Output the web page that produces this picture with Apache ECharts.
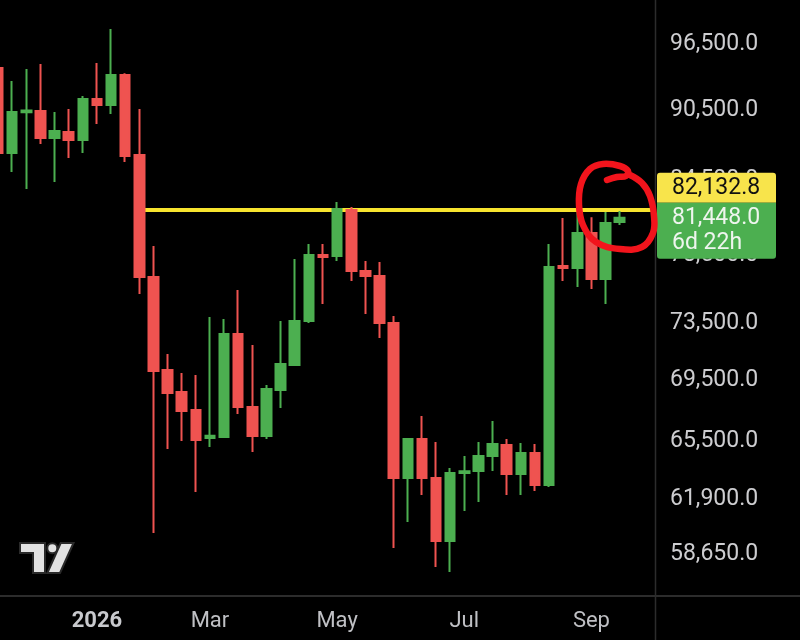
<!DOCTYPE html>
<html><head><meta charset="utf-8">
<script src="https://cdn.jsdelivr.net/npm/echarts@6/dist/echarts.min.js"></script>
<style>html,body{margin:0;padding:0;background:#000;}#c{width:800px;height:640px;}</style>
</head><body><div id="c"></div>
<script>
// weekly bars (Monday open)
const dates = ['2025-11-17','2025-11-24','2025-12-01','2025-12-08','2025-12-15','2025-12-22','2025-12-29',
  '2026-01-05','2026-01-12','2026-01-19','2026-01-26','2026-02-02','2026-02-09','2026-02-16','2026-02-23',
  '2026-03-02','2026-03-09','2026-03-16','2026-03-23','2026-03-30','2026-04-06','2026-04-13','2026-04-20','2026-04-27',
  '2026-05-04','2026-05-11','2026-05-18','2026-05-25','2026-06-01','2026-06-08','2026-06-15','2026-06-22','2026-06-29',
  '2026-07-06','2026-07-13','2026-07-20','2026-07-27','2026-08-03','2026-08-10','2026-08-17','2026-08-24','2026-08-31',
  '2026-09-07','2026-09-14','2026-09-21','2026-09-28','2026-10-05'];
const opens  = [94280,86772,90300,90404,88051,88569,87880,91469,90935,93638,86603,76879,70206,68715,67518,65700,65762,72718,67716,65825,68849,70550,73646,78548,78471,82074,77330,76954,73503,63180,65633,63180,59413,63489,63613,64552,65249,63427,64741,62750,77700,77557,80253,76729,81119];
const closes = [86772,90316,90450,88051,88656,87880,91469,90935,93638,86519,76879,70138,68648,67452,65569,65850,72718,67716,65825,68917,70619,73646,78548,78400,82154,77330,76954,73503,63180,65633,63180,59413,63489,63600,64552,65313,63427,64741,62750,77633,77560,80253,76729,81040,81448];
const lows   = [86000,85177,83775,87537,84349,86350,86772,89263,90140,86013,75614,59880,64995,65504,62324,65122,65697,67255,64805,65633,67650,70481,73500,74879,78089,76579,74152,72434,59009,60526,62141,57924,57642,61179,61719,63613,62141,62141,62385,62627,76579,76132,75984,74879,80882];
const highs  = [95000,93090,94188,94649,90316,90581,91737,94741,97939,93800,90581,79241,71312,70001,69865,73935,73791,75910,71941,69186,73646,78242,79396,79396,82718,82315,78089,78013,74007,65697,67124,65440,63800,64552,65440,66797,65633,65377,65313,79396,81436,81915,81500,81915,81995];

const priceTicks = [58650, 61900, 65500, 69500, 73500, 78500, 84500, 90500, 96500];
const timeTickDates  = ['2026-01-05','2026-03-02','2026-05-04','2026-07-06','2026-09-07'];
const timeTickLabels = ['2026','Mar','May','Jul','Sep'];
const levelPrice = 82132.8;
const levelStartIndex = 10;
const lastPrice = 81448.0;
const countdown = '6d 22h';

const UP = '#4caf50', DOWN = '#ef5350', YEL = '#f7e42e';
const FONT = 'Roboto';

function fmt(v) {
  const p = (Math.round(v * 10) / 10).toFixed(1).split('.');
  return p[0].replace(/\B(?=(\d{3})+(?!\d))/g, ',') + '.' + p[1];
}
const labelMap = {};
timeTickDates.forEach((d, i) => labelMap[d] = timeTickLabels[i]);

const candles = opens.map((o, i) => [o, closes[i], lows[i], highs[i]]);

const chart = echarts.init(document.getElementById('c'), null, {renderer: 'canvas'});
chart.setOption({
  backgroundColor: '#000000',
  animation: false,
  grid: {left: -9, right: 145, top: 0, bottom: 44, outerBoundsMode: 'none', containLabel: false},
  xAxis: {
    type: 'category', data: dates, boundaryGap: true,
    axisLine: {show: false}, axisTick: {show: false}, splitLine: {show: false},
    axisLabel: {
      interval: (idx, val) => labelMap[val] !== undefined,
      formatter: (val) => labelMap[val] === '2026' ? '{b|2026}' : (labelMap[val] || ''),
      color: '#bfc0c4', fontFamily: FONT, fontSize: 22, margin: 14,
      rich: {b: {fontFamily: FONT, fontSize: 22, fontWeight: 'bold', color: '#c8c9cd'}}
    }
  },
  yAxis: {
    type: 'log', position: 'right', min: 56307, max: 100751,
    axisLine: {show: false}, axisTick: {show: false}, splitLine: {show: false},
    axisLabel: {
      customValues: priceTicks,
      formatter: (v) => fmt(v),
      color: '#cdcdd0', fontFamily: FONT, fontSize: 23, margin: 15
    }
  },
  series: [{
    type: 'candlestick',
    data: candles,
    barWidth: 10,
    z: 2,
    itemStyle: {color: UP, color0: DOWN, borderColor: UP, borderColor0: DOWN, borderWidth: 2},
    markLine: {
      silent: true, z: 1, symbol: ['none', 'none'], animation: false,
      label: {show: false},
      lineStyle: {color: YEL, width: 4, type: 'solid'},
      emphasis: {disabled: true},
      data: [[{coord: [levelStartIndex, levelPrice]}, {x: 655, yAxis: levelPrice}]]
    }
  }]
});

const lastY = chart.convertToPixel({yAxisIndex: 0}, lastPrice);
const gTop = lastY - 15;
const circlePts = [[607,180],[617,177],[626,176],[628,171],[620,166],[603,164],[590,169],[581,184],[579,205],[583,225],[596,242],[620,249],[642,247],[653,233],[654,216],[650,196],[642,183],[630,175]];
const graphics = [
  {type: 'line', z: 50, shape: {x1: 655.5, y1: 0, x2: 655.5, y2: 640}, style: {stroke: '#2c2c2c', lineWidth: 1.5}},
  {type: 'line', z: 50, shape: {x1: 0, y1: 596, x2: 800, y2: 596}, style: {stroke: '#2c2c2c', lineWidth: 2}},
  {type: 'rect', z: 60, shape: {x: 657, y: gTop - 30, width: 119, height: 30, r: [3, 3, 0, 0]}, style: {fill: '#f8e44b'}},
  {type: 'text', z: 61, x: 672, y: gTop - 15, style: {text: fmt(levelPrice), fill: '#111', font: '23px ' + FONT, textVerticalAlign: 'middle'}},
  {type: 'rect', z: 60, shape: {x: 657, y: gTop, width: 119, height: 56, r: [0, 0, 3, 3]}, style: {fill: UP}},
  {type: 'text', z: 61, x: 672, y: lastY, style: {text: fmt(lastPrice), fill: '#eef5ee', font: '23px ' + FONT, textVerticalAlign: 'middle'}},
  {type: 'text', z: 61, x: 672, y: lastY + 25, style: {text: countdown, fill: '#eef5ee', font: '23px ' + FONT, textVerticalAlign: 'middle'}},
  {type: 'polyline', z: 70, shape: {points: circlePts, smooth: 0.4},
    style: {fill: null, stroke: '#f2141c', lineWidth: 6.5, lineCap: 'round', lineJoin: 'round'}},
  {type: 'group', z: 70, x: 20, y: 543, children: [
    {type: 'polygon', shape: {points: [[0,0],[25,0],[25,30],[13,30],[13,10],[0,10]]}, style: {fill: '#e2e2e2', stroke: '#2a2a2a', lineWidth: 2}},
    {type: 'circle', shape: {cx: 32.3, cy: 5.3, r: 5}, style: {fill: '#e2e2e2', stroke: '#2a2a2a', lineWidth: 2}},
    {type: 'polygon', shape: {points: [[40.7,0],[53.5,0],[40,30],[27.3,30]]}, style: {fill: '#e2e2e2', stroke: '#2a2a2a', lineWidth: 2}}
  ]}
];
chart.setOption({graphic: graphics});
</script></body></html>
